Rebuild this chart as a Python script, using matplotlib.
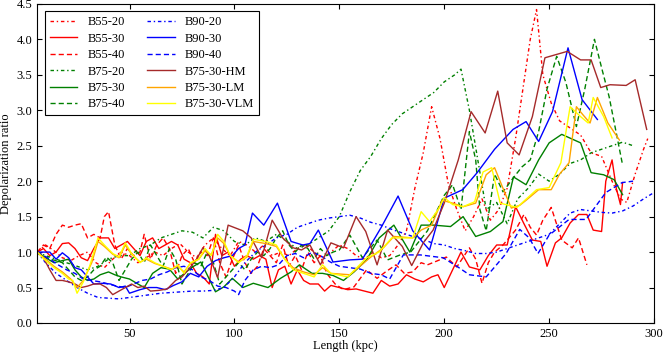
# Depolarization ratio vs length, several runs

import matplotlib
matplotlib.use('Agg')
import matplotlib.pyplot as plt

plt.rcParams['font.family'] = 'Liberation Serif'
plt.rcParams['font.size'] = 9
plt.rcParams['xtick.direction'] = 'in'
plt.rcParams['ytick.direction'] = 'in'
plt.rcParams['xtick.top'] = True
plt.rcParams['ytick.right'] = True
plt.rcParams['lines.dashdot_pattern'] = [2.5, 2.0, 1.0, 2.0]
plt.rcParams['lines.dashed_pattern'] = [3.7, 2.2]

# B55 runs
b55_20_x = [6, 10, 14, 18, 22, 26, 30, 34, 38, 42, 46, 50, 54, 58, 62, 66, 70, 74, 78, 82, 86, 90, 94, 98,
            102, 106, 110, 114, 118, 122, 126, 130, 134, 138, 142, 146, 150, 154, 158, 162, 166, 170, 174,
            178, 182, 186, 190, 194, 198, 202, 206, 210, 214, 218, 222, 226, 230, 234, 238, 241, 244, 247,
            251, 255, 260, 265, 270, 275, 280, 284, 287, 291, 295, 297]
b55_20_y = [1.0, 1.1, 1.02, 0.92, 0.88, 0.95, 1.0, 0.85, 0.78, 0.9, 1.0, 0.95, 0.85, 0.92, 1.0, 0.95, 1.05,
            1.12, 1.0, 0.92, 1.1, 1.2, 1.05, 0.95, 1.15, 1.1, 1.0, 1.1, 0.95, 1.0, 0.95, 1.05, 1.1, 1.0, 0.92,
            1.0, 1.1, 1.05, 0.95, 0.9, 1.0, 0.92, 0.95, 1.1, 1.3, 1.9, 2.4, 3.05, 2.6, 1.95, 1.6, 1.3, 1.5, 1.75,
            1.45, 1.6, 1.9, 2.6, 3.4, 4.0, 4.42, 3.5, 3.1, 2.85, 2.75, 2.65, 2.4, 2.35, 2.0, 1.75, 1.7, 2.1,
            2.45, 2.6]

b55_30_x = [6, 9, 12, 15, 18, 21, 24, 27, 30, 33, 36, 40, 43, 46, 49, 52, 55, 58, 61, 64, 67, 70, 73, 76,
            79, 82, 85, 88, 91, 94, 97, 100, 103, 106, 109, 112, 115, 118, 121, 124, 127, 130, 133, 136, 140,
            143, 146, 150, 154, 158, 162, 166, 170, 174, 178, 182, 186, 190, 194, 197, 200, 204, 208, 212,
            217, 221, 225, 230, 234, 238, 242, 246, 249, 253, 256, 260, 264, 268, 271, 275, 277, 280, 282,
            284, 285]
b55_30_y = [1.0, 1.05, 0.95, 1.0, 1.12, 1.13, 1.05, 0.92, 0.88, 1.05, 1.2, 1.2, 1.05, 1.1, 1.15, 1.05, 0.95,
            1.15, 1.2, 1.05, 1.1, 1.15, 1.1, 0.9, 0.85, 0.7, 0.65, 0.55, 1.25, 0.95, 1.0, 0.8, 0.9, 0.95, 0.9,
            0.95, 0.9, 0.5, 0.75, 0.8, 0.55, 0.75, 0.6, 0.55, 0.55, 0.45, 0.53, 0.5, 0.47, 0.48, 0.45, 0.42,
            0.6, 0.52, 0.55, 0.68, 0.62, 0.58, 0.65, 0.68, 0.5, 0.75, 1.0, 0.79, 0.75, 0.95, 1.1, 1.1, 1.64,
            1.4, 1.17, 1.15, 0.8, 1.13, 1.2, 1.41, 1.53, 1.53, 1.31, 1.29, 2.0, 2.3, 1.9, 1.67, 1.98]

b55_40_x = [6, 9, 12, 15, 18, 21, 24, 27, 30, 33, 36, 38, 40, 43, 46, 49, 52, 55, 57, 60, 63, 66, 69, 72,
            75, 78, 81, 84, 87, 90, 93, 96, 99, 102, 105, 108, 111, 114, 117, 120, 123, 126, 129, 132, 135,
            138, 141, 144, 148, 152, 157, 163, 168, 172, 177, 181, 185, 189, 192, 197, 201, 206, 212, 215,
            218, 221, 224, 228, 234, 238, 241, 244, 247, 251, 256, 261, 264, 268]
b55_40_y = [1.0, 1.1, 1.05, 1.25, 1.38, 1.35, 1.38, 1.4, 1.2, 1.25, 1.2, 1.5, 1.57, 1.1, 0.9, 1.05, 0.95,
            1.0, 1.25, 0.9, 1.1, 1.2, 1.05, 0.7, 0.95, 1.05, 0.85, 1.0, 0.95, 1.2, 0.85, 0.65, 0.9, 1.1, 0.85,
            0.7, 0.8, 1.05, 0.95, 0.85, 1.1, 0.8, 0.95, 0.75, 1.0, 0.85, 0.95, 0.7, 0.55, 0.47, 0.51, 0.75,
            0.63, 0.72, 0.82, 0.7, 0.72, 0.85, 0.82, 0.88, 0.93, 0.79, 1.06, 0.9, 0.56, 0.85, 1.0, 1.1, 1.31,
            1.53, 1.35, 1.24, 1.45, 1.63, 1.17, 1.06, 1.2, 0.82]

# B75 runs
b75_20_x = [6, 10, 15, 20, 25, 30, 35, 40, 45, 50, 55, 60, 65, 70, 75, 80, 85, 90, 95, 100, 105, 110, 115,
            120, 125, 130, 135, 140, 145, 150, 155, 160, 165, 170, 175, 180, 185, 190, 195, 200, 205, 208,
            212, 216, 220, 225, 230, 235, 240, 245, 250, 255, 260, 265, 270, 275, 280, 285, 290]
b75_20_y = [1.0, 0.95, 0.9, 0.85, 0.8, 0.75, 0.8, 0.9, 0.95, 0.95, 1.05, 1.1, 1.2, 1.25, 1.3, 1.28, 1.2,
            1.35, 1.3, 1.15, 1.1, 1.2, 1.15, 1.25, 1.15, 1.05, 1.1, 1.2, 1.3, 1.5, 1.85, 2.15, 2.35, 2.6, 2.8,
            2.95, 3.05, 3.15, 3.25, 3.4, 3.5, 3.58, 3.0, 2.3, 1.6, 1.7, 1.4, 1.75, 1.9, 2.1, 2.0, 2.1, 2.25,
            2.3, 2.4, 2.45, 2.5, 2.55, 2.5]

b75_30_x = [6, 10, 14, 18, 21, 24, 27, 30, 33, 36, 40, 43, 46, 50, 54, 57, 61, 65, 69, 73, 77, 80, 84, 88,
            91, 95, 99, 104, 109, 116, 122, 127, 131, 137, 142, 147, 152, 157, 163, 169, 176, 183.6, 189,
            195, 203, 209, 215, 222, 228, 233, 239, 245, 250, 256, 265, 270, 276, 281, 285]
b75_30_y = [1.0, 0.92, 0.85, 0.88, 0.9, 0.75, 0.65, 0.6, 0.62, 0.68, 0.72, 0.68, 0.65, 0.62, 0.55, 0.5,
            0.7, 0.78, 0.76, 0.62, 0.72, 0.79, 0.86, 0.62, 0.44, 0.51, 0.63, 0.5, 0.56, 0.5, 0.63, 0.72,
            0.82, 0.7, 0.7, 0.67, 0.6, 0.72, 0.89, 1.2, 1.38, 1.0, 1.38, 1.38, 1.36, 1.5, 1.22, 1.29, 1.43,
            2.06, 1.95, 2.3, 2.54, 2.66, 2.54, 2.12, 2.09, 2.02, 1.81]

b75_40_x = [6, 9, 12, 15, 18, 21, 24, 27, 30, 33, 36, 39, 42, 45, 48, 51, 54, 57, 60, 63, 66, 69, 72, 75,
            78, 81, 84, 87, 90, 93, 96, 99, 102, 105, 108, 111, 114, 117, 120, 123, 126, 129, 132, 135, 138,
            141, 144, 147, 150, 155, 161, 168, 173, 179, 184, 188, 192, 196, 200, 204, 208, 212, 215, 217,
            220, 224, 228, 233, 237, 241, 245, 249, 253.6, 258, 263, 267, 271.6, 275, 278.6, 284.8]
b75_40_y = [1.0, 0.95, 0.9, 0.88, 0.85, 0.75, 0.65, 0.6, 0.65, 0.75, 0.8, 0.93, 0.85, 0.6, 0.75, 0.9, 1.0,
            0.85, 1.1, 0.95, 0.8, 1.05, 0.9, 0.55, 0.7, 0.85, 0.8, 1.0, 0.85, 0.55, 0.65, 0.75, 0.85, 0.75,
            0.9, 1.0, 0.95, 1.05, 1.2, 1.3, 1.1, 1.0, 1.1, 1.05, 0.9, 1.05, 0.95, 1.0, 1.03, 1.24, 0.92, 1.17,
            0.89, 0.96, 1.0, 1.15, 1.3, 1.55, 1.8, 1.95, 1.6, 2.7, 2.3, 1.6, 1.3, 2.1, 1.85, 2.05, 2.2, 2.3,
            2.7, 3.3, 3.76, 3.39, 2.77, 3.3, 4.0, 3.6, 3.19, 2.26]

# B90 runs
b90_20_x = [6, 10, 15, 20, 25, 30, 35, 40, 45, 50, 55, 60, 65, 70, 75, 80, 85, 90, 95, 100, 105, 110, 115,
            120, 125, 130, 135, 140, 145, 150, 155, 160, 165, 170, 175, 180, 185, 190, 195, 200, 205, 210,
            215, 220, 225, 230, 235, 240, 245, 250, 255, 260, 265, 270, 275, 280, 285, 290, 295, 300]
b90_20_y = [1.0, 0.85, 0.7, 0.6, 0.5, 0.42, 0.36, 0.35, 0.34, 0.36, 0.38, 0.4, 0.42, 0.43, 0.44, 0.45,
            0.45, 0.46, 0.5, 0.65, 0.85, 1.0, 1.1, 1.2, 1.25, 1.35, 1.4, 1.45, 1.48, 1.5, 1.52, 1.48, 1.42,
            1.38, 1.32, 1.27, 1.22, 1.18, 1.12, 1.1, 1.05, 1.02, 0.98, 0.98, 1.0, 1.05, 1.1, 1.15, 1.2, 1.25,
            1.4, 1.55, 1.6, 1.58, 1.56, 1.55, 1.58, 1.65, 1.75, 1.84]

b90_30_x = [6, 9, 12, 15, 18, 21, 24, 27, 30, 33, 37, 41, 45, 48, 50, 55, 59, 63, 67, 71, 75, 79, 83, 87,
            91, 95, 99, 102, 105, 108.6, 114, 120.5, 127, 132.6, 136, 140, 147, 155, 161, 170, 178, 185, 193,
            200, 208.8, 215.7, 224, 232.8, 239, 245, 251.6, 259, 265.7, 273]
b90_30_y = [1.0, 1.0, 1.0, 0.9, 0.99, 0.92, 0.78, 0.75, 0.65, 0.55, 0.56, 0.55, 0.5, 0.52, 0.42, 0.47, 0.5,
            0.5, 0.47, 0.53, 0.58, 0.7, 0.65, 0.8, 0.88, 0.92, 0.95, 1.05, 1.1, 1.55, 1.38, 1.69, 1.15, 1.1,
            1.12, 1.31, 0.86, 0.89, 0.9, 1.35, 1.79, 1.3, 1.03, 1.76, 1.88, 2.12, 2.45, 2.73, 2.84, 2.56,
            2.98, 3.88, 3.15, 2.87]

b90_40_x = [6, 9, 12, 16, 20, 24, 28, 32, 36, 40, 44, 48, 52, 56, 60, 64, 68, 72, 76, 80, 84, 88, 92, 96,
            100, 102, 105, 109, 113, 117, 121, 125, 129, 133, 137, 141, 145.7, 150, 155, 160, 165, 170, 174,
            180.5, 188.6, 199.5, 206, 212, 220, 229.5, 236, 240.5, 244.7, 250, 259.5, 267.6, 277, 284.8, 290]
b90_40_y = [1.0, 0.95, 0.9, 0.82, 0.75, 0.7, 0.62, 0.6, 0.58, 0.55, 0.52, 0.5, 0.55, 0.6, 0.62, 0.68, 0.72,
            0.78, 0.8, 0.75, 0.65, 0.6, 0.52, 0.5, 0.45, 0.4, 0.6, 0.75, 0.8, 0.78, 0.82, 0.95, 0.98, 0.92,
            1.0, 0.95, 0.86, 0.8, 0.78, 0.76, 0.7, 0.68, 0.62, 0.96, 0.96, 0.92, 0.8, 0.68, 0.65, 0.98, 1.32,
            1.2, 0.98, 1.24, 1.46, 1.46, 1.84, 1.98, 2.0]

# B75-30 mass variants
hm_x = [6, 9, 12, 15, 18, 21, 24, 27, 30, 33, 36, 39, 42, 45, 48, 51, 54, 57, 60, 64, 68, 72, 75, 78, 82,
        85, 88, 92, 97, 104, 108, 113, 118, 123, 128, 132, 136, 141, 146, 152, 158, 162.6, 168, 173, 180,
        184.5, 190, 194.7, 200, 206.7, 212.8, 219.5, 225.5, 230, 235.7, 242, 248, 258.6, 265, 270, 274.6,
        279, 286.7, 291, 296.5]
hm_y = [1.0, 0.92, 0.75, 0.6, 0.6, 0.58, 0.55, 0.5, 0.52, 0.55, 0.55, 0.5, 0.4, 0.45, 0.5, 0.55, 0.5,
        0.52, 0.45, 0.46, 0.48, 0.6, 0.65, 0.75, 0.9, 1.06, 0.95, 0.64, 1.38, 1.3, 1.2, 0.92, 1.45, 1.2,
        1.06, 1.03, 1.1, 0.82, 1.13, 1.06, 1.5, 1.29, 0.82, 1.31, 1.08, 0.81, 1.13, 1.31, 1.69, 2.3, 2.98,
        2.68, 3.27, 2.54, 2.37, 2.91, 3.74, 3.83, 3.71, 3.71, 3.32, 3.36, 3.35, 3.43, 2.73]

lm_x = [6, 10, 14, 18, 22, 25, 28, 32, 35, 38, 42, 45, 48, 51, 55, 58, 62, 66, 70, 73, 76, 79, 83, 86, 89,
        92, 95, 98, 102, 106, 109, 115, 120, 124, 128, 133, 138, 142, 146, 155, 165, 171, 176, 185, 189,
        194, 199, 204, 209, 215, 220, 224, 228, 232, 236, 239, 245, 251, 255, 259.5, 263, 266, 269.5, 273,
        278, 283.5]
lm_y = [1.0, 0.9, 0.8, 0.72, 0.62, 0.5, 0.6, 0.85, 1.15, 1.08, 0.97, 0.92, 1.1, 0.97, 0.86, 0.9, 0.84,
        0.8, 0.76, 0.8, 0.72, 0.84, 0.9, 1.02, 0.96, 1.2, 1.12, 0.95, 0.86, 0.93, 1.15, 1.12, 1.08, 0.9,
        0.78, 0.72, 0.68, 0.78, 0.7, 0.68, 0.93, 1.06, 1.22, 1.2, 1.31, 1.38, 1.73, 1.69, 1.64, 1.69, 2.09,
        2.19, 1.9, 1.62, 1.66, 1.73, 1.88, 1.88, 2.1, 2.26, 3.05, 2.94, 2.82, 3.18, 2.82, 2.58]

vlm_x = [6, 10, 14, 18, 21, 23, 25, 28, 31, 35, 38, 42, 45, 48, 51, 55, 58, 62, 66, 70, 73, 76, 79, 83, 86,
         89, 92, 95, 98, 102, 106, 109, 115, 120, 124, 128, 133, 138, 142, 146, 154, 163, 169, 175, 185,
         189, 193, 198, 200, 204, 209, 214.5, 218.5, 222.6, 226.7, 234.7, 244, 250, 255.6, 260, 265, 268.6,
         271, 276, 280]
vlm_y = [1.0, 0.88, 0.78, 0.7, 0.62, 0.6, 0.42, 0.58, 0.8, 1.2, 1.1, 0.98, 0.93, 1.13, 0.98, 0.85, 0.92,
         0.85, 0.8, 0.75, 0.82, 0.7, 0.85, 0.9, 1.05, 0.95, 1.25, 1.15, 0.95, 0.85, 0.95, 1.18, 1.15, 1.1,
         0.9, 0.75, 0.7, 0.65, 0.82, 0.7, 0.65, 0.92, 1.0, 1.2, 1.2, 1.57, 1.43, 1.64, 1.77, 1.67, 1.64,
         1.71, 2.13, 2.19, 1.69, 1.63, 1.88, 1.91, 2.26, 3.05, 2.91, 2.82, 3.18, 2.91, 2.61]

fig = plt.figure(figsize=(6.64, 3.53), dpi=100)
ax = fig.add_axes([0.056, 0.085, 0.929, 0.904])

ax.plot(b55_20_x, b55_20_y, color='red', ls='-.', lw=1, label='B55-20')
ax.plot(b55_30_x, b55_30_y, color='red', ls='-', lw=1, label='B55-30')
ax.plot(b55_40_x, b55_40_y, color='red', ls='--', lw=1, label='B55-40')
ax.plot(b75_20_x, b75_20_y, color='green', ls='-.', lw=1, label='B75-20')
ax.plot(b75_30_x, b75_30_y, color='green', ls='-', lw=1, label='B75-30')
ax.plot(b75_40_x, b75_40_y, color='green', ls='--', lw=1, label='B75-40')
ax.plot(b90_20_x, b90_20_y, color='blue', ls='-.', lw=1, label='B90-20')
ax.plot(b90_30_x, b90_30_y, color='blue', ls='-', lw=1, label='B90-30')
ax.plot(b90_40_x, b90_40_y, color='blue', ls='--', lw=1, label='B90-40')
ax.plot(hm_x, hm_y, color='brown', ls='-', lw=1, label='B75-30-HM')
ax.plot(lm_x, lm_y, color='orange', ls='-', lw=1, label='B75-30-LM')
ax.plot(vlm_x, vlm_y, color='yellow', ls='-', lw=1, label='B75-30-VLM')

ax.set_xlim(6, 300)
ax.set_ylim(0, 4.5)
ax.set_xticks([50, 100, 150, 200, 250, 300])
ax.set_yticks([0.0, 0.5, 1.0, 1.5, 2.0, 2.5, 3.0, 3.5, 4.0, 4.5])
ax.set_yticklabels(['%.1f' % t for t in ax.get_yticks()])
ax.set_xlabel('Length (kpc)', labelpad=0)
ax.set_ylabel('Depolarization ratio', labelpad=3)

leg = ax.legend(loc='upper left', ncol=2, fancybox=False, framealpha=1, edgecolor='black',
                borderaxespad=0.6, handlelength=2.2, columnspacing=1.8, labelspacing=0.35)
leg.get_frame().set_linewidth(0.8)

fig.savefig('out.png', dpi=100)
